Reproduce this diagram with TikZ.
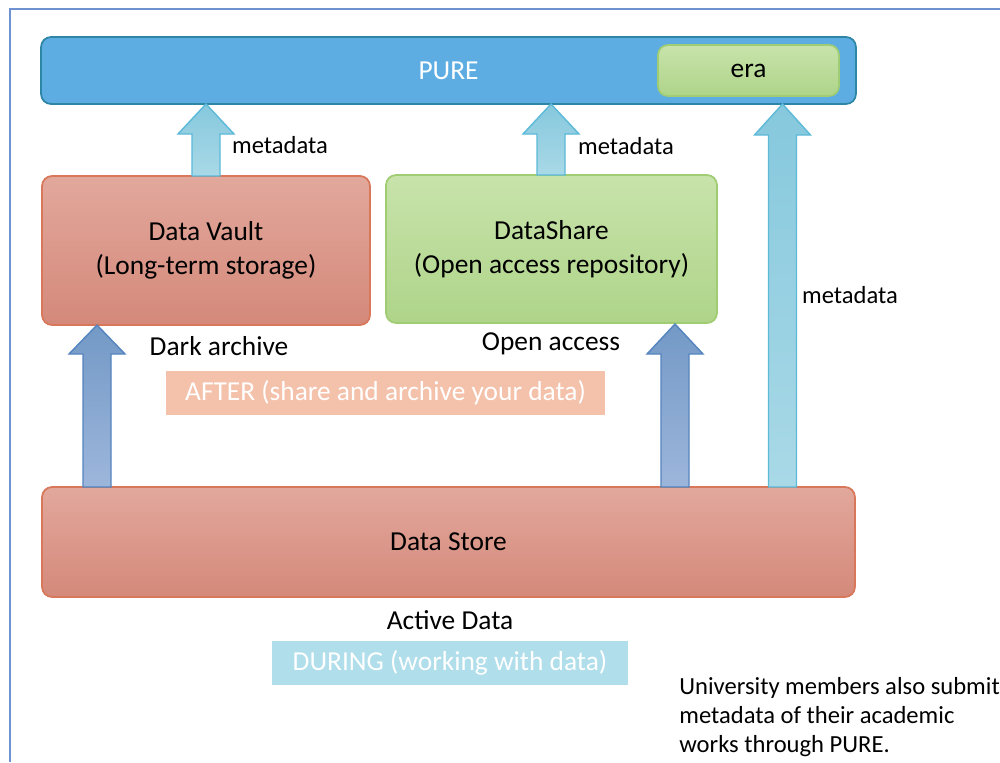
\documentclass[tikz,border=0pt]{standalone}
\usepackage{fontspec}
\setmainfont{Carlito}
\definecolor{frameblue}{HTML}{6E92D2}
\definecolor{purefill}{HTML}{5DADE2}
\definecolor{pureline}{HTML}{2E86A6}
\definecolor{vaulttop}{HTML}{E2A89C}
\definecolor{vaultbot}{HTML}{D4897A}
\definecolor{vaultline}{HTML}{D8775A}
\definecolor{greentop}{HTML}{C8E3AB}
\definecolor{greenbot}{HTML}{AED489}
\definecolor{greenline}{HTML}{A0CD73}
\definecolor{ltarrtop}{HTML}{86C8DD}
\definecolor{ltarrbot}{HTML}{A9D9E7}
\definecolor{ltarrline}{HTML}{5CB9D8}
\definecolor{dkarrtop}{HTML}{7399C6}
\definecolor{dkarrbot}{HTML}{9DB6DB}
\definecolor{dkarrline}{HTML}{5584BF}
\definecolor{afterfill}{HTML}{F4C1AA}
\definecolor{duringfill}{HTML}{B0DEEA}
\newcommand\uparr[5]{%
  \draw[#1] (#2-14,#3) -- (#2-14,#4+#5) -- (#2-28,#4+#5) -- (#2,#4) -- (#2+28,#4+#5) -- (#2+14,#4+#5) -- (#2+14,#3) -- cycle;}
\begin{document}
\begin{tikzpicture}[x=0.02cm,y=-0.02cm,
  box/.style={rectangle,rounded corners=0.2cm,inner sep=0pt,outer sep=0pt,line width=1pt,align=center,font=\fontsize{15.6}{19}\selectfont},
  redbox/.style={box,top color=vaulttop,bottom color=vaultbot,draw=vaultline},
  greenbox/.style={box,top color=greentop,bottom color=greenbot,draw=greenline},
  lbl/.style={font=\fontsize{15.6}{19}\selectfont},
  small/.style={font=\fontsize{14}{16.4}\selectfont},
  band/.style={rectangle,inner sep=0pt,text=white,font=\fontsize{15.6}{19}\selectfont},
  ltarr/.style={top color=ltarrtop,bottom color=ltarrbot,draw=ltarrline,line width=0.8pt},
  dkarr/.style={top color=dkarrtop,bottom color=dkarrbot,draw=dkarrline,line width=0.8pt}]
\useasboundingbox (0,0) rectangle (1000,762);
\fill[white] (0,0) rectangle (1000,762);
\draw[frameblue,line width=1.2pt] (10,762) -- (10,9) -- (1000,9);

\node[box,fill=purefill,draw=pureline,text=white,minimum width=16.3cm,minimum height=1.34cm] (pure) at (448.5,70.5) {PURE};
\node[greenbox,minimum width=3.62cm,minimum height=1.02cm] (era) at (748.5,70.5) {era};
\node[redbox,minimum width=6.56cm,minimum height=2.98cm] (vault) at (206,250.5) {Data Vault\\(Long-term storage)};
\node[greenbox,minimum width=6.62cm,minimum height=2.96cm] (share) at (551.5,249) {DataShare\\(Open access repository)};
\node[redbox,minimum width=16.26cm,minimum height=2.2cm] (store) at (448.5,542) {Data Store};

\node[band,fill=afterfill,minimum width=8.78cm,minimum height=0.88cm] (after) at (385.5,393) {AFTER (share and archive your data)};
\node[band,fill=duringfill,minimum width=7.12cm,minimum height=0.88cm] (during) at (450,663) {DURING (working with data)};

\uparr{ltarr}{206}{176}{104}{30}
\uparr{ltarr}{551}{175}{104}{30}
\uparr{ltarr}{782.5}{487}{104}{31}
\uparr{dkarr}{97}{487}{325}{29}
\uparr{dkarr}{675}{487}{324}{30}

\node[small] (md1) at (280,145) {metadata};
\node[small] (md2) at (626,146) {metadata};
\node[small] (md3) at (850,295) {metadata};
\node[lbl] (dark) at (219,346) {Dark archive};
\node[lbl] (open) at (551,344) {Open access};
\node[lbl] (active) at (450,620) {Active Data};
\node[small,anchor=west,align=left,inner sep=0pt] (note) at (679,717) {University members also submit\\metadata of their academic\\works through PURE.};
\end{tikzpicture}
\end{document}
